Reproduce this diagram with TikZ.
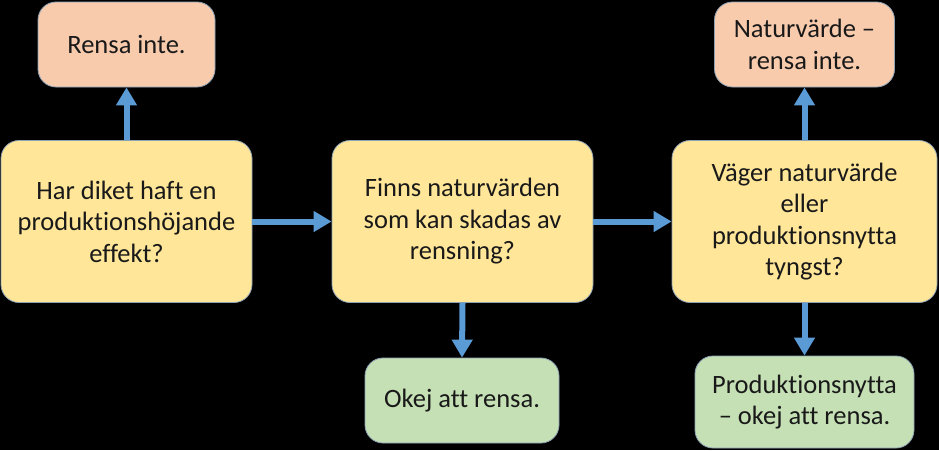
\documentclass[tikz,border=0pt]{standalone}
\usepackage{fontspec}
\setmainfont{Carlito}[Ligatures={NoCommon}]
\usetikzlibrary{arrows.meta}
\definecolor{ylw}{HTML}{FFE699}
\definecolor{org}{HTML}{F8CBAD}
\definecolor{grn}{HTML}{C5E0B4}
\definecolor{arr}{HTML}{5B9BD5}
\definecolor{edge}{HTML}{8EA2B5}
\tikzset{
  box/.style={draw=edge, line width=0.8pt, rounded corners=18pt, inner sep=0pt,
    align=center, font=\fontsize{26.5}{31.5}\selectfont, text=black!90},
  flow/.style={draw=arr, line width=6pt,
    -{Triangle[width=20pt,length=18pt]}, shorten >=0pt}
}
\begin{document}
\begin{tikzpicture}[x=1pt,y=-1pt]
\fill[black] (0,0) rectangle (939,450);
\useasboundingbox (0,0) rectangle (939,450);
\node[box, fill=org, minimum width=177pt, minimum height=85pt] (A) at (126.5,44.5) {Rensa inte.};
\node[box, fill=ylw, minimum width=251pt, minimum height=162pt] (B) at (126.5,221.5) {Har diket haft en\\produktionshöjande\\effekt?};
\node[box, fill=ylw, minimum width=261pt, minimum height=162pt] (C) at (462.5,221.5) {Finns naturvärden\\som kan skadas av\\rensning?};
\node[box, fill=grn, minimum width=194pt, minimum height=85pt] (D) at (462,400.5) {Okej att rensa.};
\node[box, fill=ylw, minimum width=265pt, minimum height=162pt] (E) at (804.5,221.5) {Väger naturvärde\\eller\\produktionsnytta\\tyngst?};
\node[box, fill=org, minimum width=180pt, minimum height=85pt] (F) at (804.5,44.5) {Naturvärde –\\rensa inte.};
\node[box, fill=grn, minimum width=219pt, minimum height=92pt] (G) at (804.5,402) {Produktionsnytta\\– okej att rensa.};
\draw[flow] (B.north) -- (A.south);
\draw[flow] (B.east) -- (C.west);
\draw[flow] (C.south) -- (D.north);
\draw[flow] (C.east) -- (E.west);
\draw[flow] (E.north) -- (F.south);
\draw[flow] (E.south) -- (G.north);
\end{tikzpicture}
\end{document}
